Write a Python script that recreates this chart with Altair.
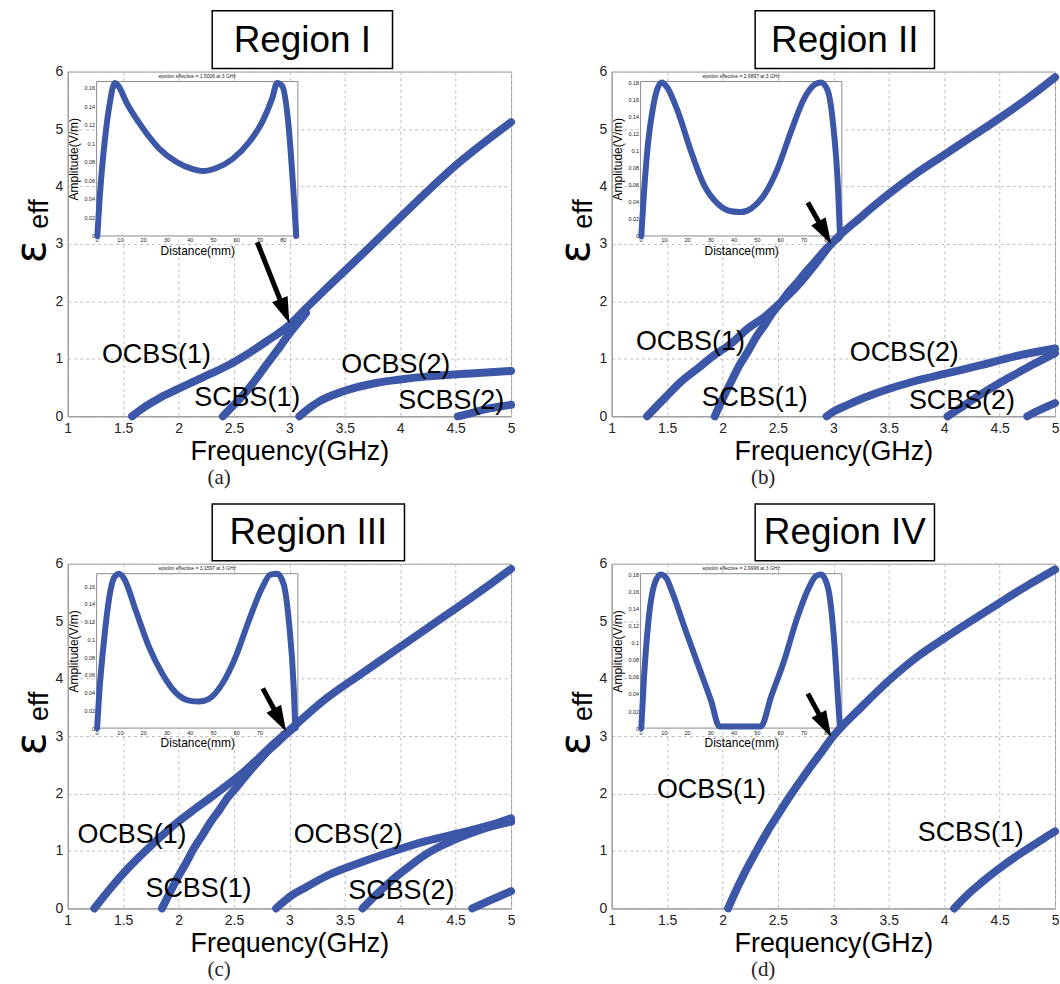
import math
import altair as alt
import pandas as pd

# ---------------- data ----------------
FREQ_TICKS = [1, 1.5, 2, 2.5, 3, 3.5, 4, 4.5, 5]
EPS_TICKS = [0, 1, 2, 3, 4, 5, 6]
DIST_TICKS = [0, 10, 20, 30, 40, 50, 60, 70, 80]
AMP_TICKS_16 = [0, 0.02, 0.04, 0.06, 0.08, 0.1, 0.12, 0.14, 0.16]
AMP_TICKS_18 = [0, 0.02, 0.04, 0.06, 0.08, 0.1, 0.12, 0.14, 0.16, 0.18]

# Region I
a_ocbs1 = [(1.58, 0), (1.7, 0.17), (1.83, 0.32), (2.0, 0.48), (2.13, 0.6), (2.3, 0.75), (2.43, 0.87),
           (2.61, 1.07), (2.79, 1.3), (3.0, 1.59), (3.15, 1.88), (3.33, 2.22), (3.63, 2.77), (3.93, 3.33),
           (4.23, 3.89), (4.52, 4.4), (4.82, 4.86), (5.0, 5.12)]
a_scbs1 = [(2.4, 0), (2.5, 0.2), (2.61, 0.43), (2.7, 0.65), (2.79, 0.89), (2.88, 1.12), (2.97, 1.36),
           (3.05, 1.56), (3.15, 1.8)]
a_ocbs2 = [(3.09, 0), (3.15, 0.1), (3.27, 0.26), (3.48, 0.43), (3.78, 0.58), (4.0, 0.64), (4.23, 0.69),
           (4.67, 0.75), (5.0, 0.79)]
a_scbs2 = [(4.52, 0), (4.65, 0.06), (4.76, 0.12), (4.9, 0.17), (5.0, 0.2)]

# Region II
b_ocbs1 = [(1.32, 0), (1.48, 0.32), (1.63, 0.61), (1.78, 0.84), (1.93, 1.07), (2.08, 1.27), (2.23, 1.53),
           (2.38, 1.73), (2.53, 1.99), (2.68, 2.28), (2.83, 2.63), (2.98, 3.0), (3.25, 3.47), (3.5, 3.87),
           (3.75, 4.23), (4.0, 4.55), (4.25, 4.87), (4.5, 5.19), (4.75, 5.53), (5.0, 5.9)]
b_scbs1 = [(1.93, 0), (2.0, 0.3), (2.08, 0.61), (2.15, 0.88), (2.23, 1.13), (2.3, 1.37), (2.38, 1.59),
           (2.45, 1.8), (2.53, 1.99), (2.6, 2.17), (2.68, 2.34), (2.75, 2.51), (2.83, 2.68), (2.9, 2.84),
           (2.98, 3.0), (3.05, 3.12)]
b_ocbs2 = [(2.94, 0), (3.0, 0.08), (3.13, 0.2), (3.25, 0.3), (3.43, 0.43), (3.73, 0.61), (4.03, 0.75),
           (4.33, 0.89), (4.63, 1.04), (5.0, 1.18)]
b_scbs2 = [(4.03, 0), (4.15, 0.15), (4.33, 0.38), (4.5, 0.58), (4.63, 0.72), (4.8, 0.9), (5.0, 1.1)]
b_mode3 = [(4.75, 0), (4.85, 0.1), (5.0, 0.23)]

# Region III
c_ocbs1 = [(1.24, 0), (1.39, 0.36), (1.54, 0.69), (1.69, 0.98), (1.84, 1.25), (1.99, 1.5), (2.14, 1.72),
           (2.29, 1.93), (2.44, 2.15), (2.59, 2.38), (2.73, 2.63), (2.88, 2.9), (3.0, 3.1), (3.33, 3.65),
           (3.63, 4.06), (3.93, 4.46), (4.23, 4.86), (4.53, 5.26), (4.83, 5.67), (5.0, 5.91)]
c_scbs1 = [(1.85, 0), (1.92, 0.27), (1.99, 0.53), (2.07, 0.8), (2.14, 1.05), (2.22, 1.29), (2.29, 1.51),
           (2.37, 1.72), (2.44, 1.92), (2.52, 2.1), (2.59, 2.27), (2.66, 2.43), (2.73, 2.58), (2.8, 2.73),
           (2.88, 2.87), (2.94, 2.98), (3.0, 3.08), (3.05, 3.16)]
c_ocbs2 = [(2.88, 0), (2.95, 0.12), (3.03, 0.24), (3.15, 0.37), (3.33, 0.56), (3.63, 0.79), (3.93, 0.99),
           (4.23, 1.17), (4.53, 1.31), (4.83, 1.46), (5.0, 1.57)]
c_scbs2 = [(3.66, 0), (3.8, 0.27), (3.93, 0.5), (4.08, 0.73), (4.23, 0.94), (4.38, 1.1), (4.53, 1.23),
           (4.68, 1.34), (4.83, 1.43), (5.0, 1.51)]
c_mode3 = [(4.65, 0), (4.8, 0.13), (5.0, 0.3)]

# Region IV
d_ocbs1 = [(2.05, 0), (2.1, 0.22), (2.2, 0.62), (2.3, 0.98), (2.4, 1.32), (2.5, 1.63), (2.6, 1.93),
           (2.7, 2.21), (2.8, 2.48), (2.9, 2.74), (3.0, 3.0), (3.25, 3.5), (3.52, 4.0), (3.75, 4.37),
           (4.0, 4.7), (4.24, 5.0), (4.5, 5.32), (4.75, 5.62), (5.0, 5.9)]
d_scbs1 = [(4.09, 0), (4.2, 0.22), (4.33, 0.44), (4.48, 0.67), (4.63, 0.88), (4.78, 1.07), (4.9, 1.22),
           (5.0, 1.34)]

# inset field profiles: (distance mm, amplitude V/m)
ins_a = [(0.3, 0), (1.4, 0.044), (3.6, 0.105), (5.7, 0.144), (7.8, 0.165), (9.3, 0.162), (12.8, 0.144),
         (19.9, 0.116), (27, 0.094), (34.2, 0.08), (41.3, 0.072), (45.6, 0.07), (51.2, 0.073), (58.4, 0.083),
         (65.5, 0.101), (71.2, 0.123), (75.4, 0.148), (77.6, 0.165), (79.7, 0.162), (82.6, 0.116),
         (84.7, 0.044), (85.8, 0)]
ins_b = [(0.3, 0), (1.4, 0.048), (3.1, 0.106), (5.3, 0.15), (7.4, 0.174), (9.2, 0.18), (11.2, 0.175),
         (16, 0.146), (21.7, 0.099), (27.4, 0.059), (33.1, 0.038), (38.9, 0.029), (43.1, 0.028), (47.4, 0.032),
         (53.1, 0.048), (58.9, 0.079), (64.6, 0.122), (70.3, 0.161), (74.6, 0.177), (77.5, 0.18), (80.2, 0.172),
         (82.6, 0.135), (85, 0.048), (85.7, 0)]
ins_c = [(0.2, 0), (1.1, 0.038), (3.3, 0.102), (5.4, 0.147), (7.6, 0.17), (9.7, 0.174), (11.9, 0.168),
         (16.9, 0.132), (22.6, 0.091), (28.3, 0.061), (34, 0.04), (39.7, 0.031), (44, 0.03), (48.3, 0.033),
         (54, 0.05), (59.7, 0.08), (65.4, 0.121), (71.1, 0.158), (74.7, 0.173), (77.6, 0.174), (80.4, 0.162),
         (82.6, 0.121), (84.7, 0.046), (85.4, 0)]
ins_d = [(0.3, 0), (1.4, 0.056), (3.4, 0.126), (6, 0.169), (8.6, 0.18), (11, 0.176), (13.1, 0.163),
         (18.9, 0.118), (24.6, 0.075), (30.3, 0.032), (33.9, 0.002), (51.7, 0.002), (56, 0.036), (61.7, 0.079),
         (67.4, 0.13), (72.4, 0.165), (75.3, 0.178), (77.6, 0.18), (80.5, 0.165), (83.1, 0.106), (85, 0.028),
         (85.7, 0)]

# curve labels: (text, GHz, eps)
a_labels = [("OCBS(1)", 1.80, 1.07), ("SCBS(1)", 2.62, 0.32), ("OCBS(2)", 3.96, 0.90), ("SCBS(2)", 4.46, 0.26)]
b_labels = [("OCBS(1)", 1.71, 1.30), ("SCBS(1)", 2.29, 0.32), ("OCBS(2)", 3.64, 1.10), ("SCBS(2)", 4.16, 0.26)]
c_labels = [("OCBS(1)", 1.58, 1.28), ("SCBS(1)", 2.18, 0.33), ("OCBS(2)", 3.53, 1.28), ("SCBS(2)", 4.01, 0.30)]
d_labels = [("OCBS(1)", 1.90, 2.06), ("SCBS(1)", 4.24, 1.31)]

# arrows: tail (GHz, eps) -> tip (GHz, eps)
a_arrow = [(2.71, 3.03), (3.0, 1.62)]
b_arrow = [(2.77, 3.72), (2.98, 3.0)]
c_arrow = [(2.76, 3.83), (2.97, 3.08)]
d_arrow = [(2.77, 3.74), (2.98, 2.99)]

INSET_TITLES = ["epsilon effective = 1.5006 at 3 GHz", "epsilon effective = 2.9897 at 3 GHz",
                "epsilon effective = 3.1597 at 3 GHz", "epsilon effective = 2.9996 at 3 GHz"]
REGIONS = ["Region I", "Region II", "Region III", "Region IV"]
CAPTIONS = ["(a)", "(b)", "(c)", "(d)"]

# ---------------- style ----------------
W, H = 445, 346
BLUE = "#3c56a8"
SANS = "Liberation Sans"
SERIF = "Liberation Serif"
GRID = "#bdbdbd"
FRAME = "#9a9a9a"
HEAD = "M0,0L0.32,1L-0.32,1Z"


def curves_frame(curves):
    rows = []
    for name, pts in curves:
        for x, y in pts:
            rows.append({"x": x, "y": y, "c": name})
    return pd.DataFrame(rows)


def panel(curves, inset_pts, inset_ymax, inset_ticks, inset_title,
          labels, arrow, region, box, caption, anchor=False):
    xs = alt.Scale(domain=[1, 5], nice=False, zero=False)
    ys = alt.Scale(domain=[0, 6], nice=False, zero=False)
    ixs = alt.Scale(domain=[0, 86.5], range=[29, 231], nice=False, zero=False)
    iys = alt.Scale(domain=[0, inset_ymax], range=[165, 10], nice=False, zero=False)

    x_axis = alt.Axis(values=FREQ_TICKS, format="~g", title="Frequency(GHz)", labelFontSize=14, labelPadding=5,
                      ticks=False, grid=True, gridDash=[3, 3], gridColor=GRID, domainColor=FRAME,
                      titleFontSize=27, titlePadding=3, labelFlush=False, orient="bottom")
    y_axis = alt.Axis(values=EPS_TICKS, title=None, labelFontSize=14, labelPadding=5, ticks=False, grid=True,
                      gridDash=[3, 3], gridColor=GRID, domainColor=FRAME, orient="left")
    ix_axis = alt.Axis(orient="bottom", offset=165 - H, values=DIST_TICKS, format="d", title="Distance(mm)",
                       labelFontSize=5.5, labelPadding=2, ticks=False, domain=False, grid=False,
                       titleFontSize=12, titlePadding=2, labelFlush=False, labelOverlap=False)
    iy_axis = alt.Axis(orient="left", offset=-29, values=inset_ticks, format="~g", title="Amplitude(V/m)",
                       labelFontSize=5.5, labelPadding=2, ticks=False, domain=False, grid=False,
                       titleFontSize=12, titlePadding=3, labelOverlap=False)

    # ---- inset ----
    frame_df = pd.DataFrame({"d": [0], "d2": [86.5], "a": [0], "a2": [inset_ymax]})
    ins_rect = alt.Chart(frame_df).mark_rect(fill="white", stroke="#8a8a8a", strokeWidth=1).encode(
        x=alt.X("d:Q", scale=ixs, axis=ix_axis), x2="d2:Q",
        y=alt.Y("a:Q", scale=iys, axis=iy_axis), y2="a2:Q")
    ins_df = pd.DataFrame(inset_pts, columns=["d", "a"])
    ins_line = alt.Chart(ins_df).mark_line(color=BLUE, strokeWidth=6, strokeCap="round",
                                           strokeJoin="round", interpolate="monotone").encode(
        x=alt.X("d:Q", scale=ixs, axis=ix_axis),
        y=alt.Y("a:Q", scale=iys, axis=iy_axis))
    ins_title = alt.Chart(pd.DataFrame({"t": [inset_title]})).mark_text(
        font=SANS, fontSize=5, color="#222").encode(text="t:N", x=alt.value(130), y=alt.value(4))
    inset = alt.layer(ins_rect, ins_line, ins_title)

    # ---- main ----
    def X(field):
        return alt.X(field, scale=xs, axis=x_axis)

    def Y(field):
        return alt.Y(field, scale=ys, axis=y_axis)

    df = curves_frame(curves)
    lines = alt.Chart(df).mark_line(color=BLUE, strokeWidth=8, strokeCap="round", strokeJoin="round",
                                    interpolate="monotone").encode(
        x=X("x:Q"), y=Y("y:Q"), detail="c:N")

    lab_df = pd.DataFrame(labels, columns=["t", "x", "y"])
    texts = alt.Chart(lab_df).mark_text(font=SANS, fontSize=27, color="black").encode(
        x=X("x:Q"), y=Y("y:Q"), text="t:N")

    (tx, ty), (hx, hy) = arrow
    dxp = (hx - tx) * W / 4.0
    dyp = (ty - hy) * H / 6.0
    length = math.hypot(dxp, dyp)
    ang = math.degrees(math.atan2(dxp, -dyp)) % 360
    frac = (length - 14) / length
    ex, ey = tx + frac * (hx - tx), ty + frac * (hy - ty)
    ar_df = pd.DataFrame({"x": [tx], "y": [ty], "x2": [ex], "y2": [ey]})
    shaft = alt.Chart(ar_df).mark_rule(color="black", strokeWidth=5).encode(
        x=X("x:Q"), y=Y("y:Q"), x2="x2:Q", y2="y2:Q")
    head = alt.Chart(pd.DataFrame({"x": [hx], "y": [hy]})).mark_point(
        shape=HEAD, size=2700, filled=True, color="black", opacity=1, angle=ang, strokeWidth=0).encode(
        x=X("x:Q"), y=Y("y:Q"))

    one = pd.DataFrame({"t": [region]})
    bx0, bx1, by0, by1 = box
    tbox = alt.Chart(one).mark_rect(fill="white", stroke="black", strokeWidth=1.5).encode(
        x=alt.value(bx0), x2=alt.value(bx1), y=alt.value(by0), y2=alt.value(by1))
    ttext = alt.Chart(one).mark_text(font=SANS, fontSize=37, color="black").encode(
        text="t:N", x=alt.value((bx0 + bx1) / 2), y=alt.value((by0 + by1) / 2 + 1))
    cap = alt.Chart(pd.DataFrame({"t": [caption]})).mark_text(font=SERIF, fontSize=21, color="#222").encode(
        text="t:N", x=alt.value(152), y=alt.value(408))
    eps = alt.Chart(pd.DataFrame({"t": ["ε"]})).mark_text(
        font="DejaVu Sans", fontSize=42, color="black", angle=270).encode(
        text="t:N", x=alt.value(-36), y=alt.value(181))
    eff = alt.Chart(pd.DataFrame({"t": ["eff"]})).mark_text(
        font=SANS, fontSize=27, color="black", angle=270).encode(
        text="t:N", x=alt.value(-28), y=alt.value(143))

    main_layers = [lines, texts, shaft, head, tbox, ttext, cap, eps, eff]
    if anchor:
        anc = alt.Chart(pd.DataFrame({"t": [0]})).mark_rect(fill="white", opacity=0).encode(
            x=alt.value(-67), x2=alt.value(0), y=alt.value(-69), y2=alt.value(0))
        main_layers.append(anc)
    main = alt.layer(*main_layers)
    return alt.layer(inset, main).resolve_scale(x="independent", y="independent").properties(
        width=W, height=H)


pa = panel([("o1", a_ocbs1), ("s1", a_scbs1), ("o2", a_ocbs2), ("s2", a_scbs2)],
           ins_a, 0.1665, AMP_TICKS_16, INSET_TITLES[0],
           a_labels, a_arrow, REGIONS[0], (145, 326, -61, -3), CAPTIONS[0], anchor=True)
pb = panel([("o1", b_ocbs1), ("s1", b_scbs1), ("o2", b_ocbs2), ("s2", b_scbs2), ("m3", b_mode3)],
           ins_b, 0.181, AMP_TICKS_18, INSET_TITLES[1],
           b_labels, b_arrow, REGIONS[1], (144, 324, -61, -3), CAPTIONS[1])
pc = panel([("o1", c_ocbs1), ("s1", c_scbs1), ("o2", c_ocbs2), ("s2", c_scbs2), ("m3", c_mode3)],
           ins_c, 0.174, AMP_TICKS_16, INSET_TITLES[2],
           c_labels, c_arrow, REGIONS[2], (145, 338, -60, -3), CAPTIONS[2])
pd_ = panel([("o1", d_ocbs1), ("s1", d_scbs1)],
            ins_d, 0.181, AMP_TICKS_18, INSET_TITLES[3],
            d_labels, d_arrow, REGIONS[3], (144, 324, -60, -3), CAPTIONS[3])

chart = alt.concat(pa, pb, pc, pd_, columns=2, spacing={"row": 148, "column": 101}, bounds="flush").properties(
    padding=0
).configure(background="white", font=SANS).configure_view(stroke=FRAME, strokeWidth=1).configure_axis(
    labelFont=SANS, titleFont=SANS, labelColor="#222", titleColor="black", titleFontWeight="normal")

chart.save("out.html", embed_options={"renderer": "svg", "actions": False})
